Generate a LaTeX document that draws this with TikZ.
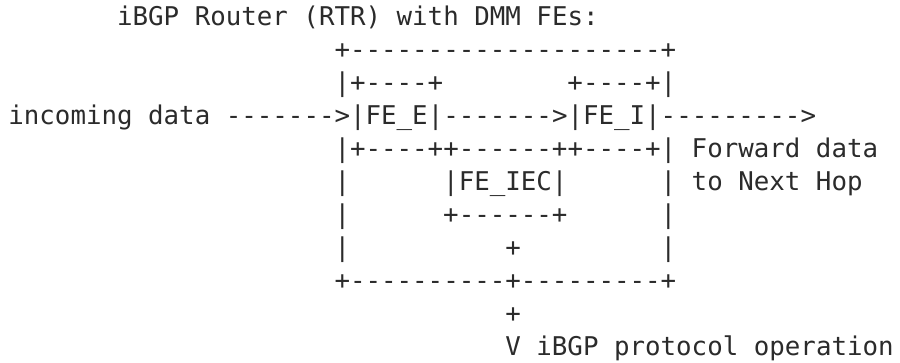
\documentclass[tikz,border=0pt]{standalone}
\usepackage{fontspec}
\setmonofont{DejaVu Sans Mono}
\definecolor{ink}{rgb}{0.17,0.17,0.17}
\begin{document}
\begin{tikzpicture}[x=1bp,y=-1bp,
  asc/.style={anchor=base west,inner sep=0pt,outer sep=0pt,text=ink,
    font=\ttfamily\fontsize{25.8bp}{30bp}\selectfont}]
\useasboundingbox[fill=white] (0,0) rectangle (900,362);
\def\cw{15.53}
\def\xo{8.4}
\def\ro{25}
\def\rs{33}
% row 1
\node[asc] (title) at ({\xo+7*\cw},{\ro+0*\rs}) {iBGP Router (RTR) with DMM FEs:};
% row 2
\node[asc] (top) at ({\xo+21*\cw},{\ro+1*\rs}) {+--------------------+};
% row 3
\node[asc] (feetop) at ({\xo+21*\cw},{\ro+2*\rs}) {|+----+};
\node[asc] (feitop) at ({\xo+36*\cw},{\ro+2*\rs}) {+----+|};
% row 4
\node[asc] (flow) at ({\xo+0*\cw},{\ro+3*\rs}) {incoming data ------->|FE\_E|------->|FE\_I|--------->};
% row 5
\node[asc] (mid) at ({\xo+21*\cw},{\ro+4*\rs}) {|+----++------++----+|};
\node[asc] (fwd) at ({\xo+44*\cw},{\ro+4*\rs}) {Forward data};
% row 6
\node[asc] (l6) at ({\xo+21*\cw},{\ro+5*\rs}) {|};
\node[asc] (iec) at ({\xo+28*\cw},{\ro+5*\rs}) {|FE\_IEC|};
\node[asc] (r6) at ({\xo+42*\cw},{\ro+5*\rs}) {|};
\node[asc] (hop) at ({\xo+44*\cw},{\ro+5*\rs}) {to Next Hop};
% row 7
\node[asc] (l7) at ({\xo+21*\cw},{\ro+6*\rs}) {|};
\node[asc] (iecbot) at ({\xo+28*\cw},{\ro+6*\rs}) {+------+};
\node[asc] (r7) at ({\xo+42*\cw},{\ro+6*\rs}) {|};
% row 8
\node[asc] (l8) at ({\xo+21*\cw},{\ro+7*\rs}) {|};
\node[asc] (p8) at ({\xo+32*\cw},{\ro+7*\rs}) {+};
\node[asc] (r8) at ({\xo+42*\cw},{\ro+7*\rs}) {|};
% row 9
\node[asc] (bot) at ({\xo+21*\cw},{\ro+8*\rs}) {+----------+---------+};
% row 10
\node[asc] (p10) at ({\xo+32*\cw},{\ro+9*\rs}) {+};
% row 11
\node[asc] (proto) at ({\xo+32*\cw},{\ro+10*\rs}) {V iBGP protocol operation};
\end{tikzpicture}
\end{document}
